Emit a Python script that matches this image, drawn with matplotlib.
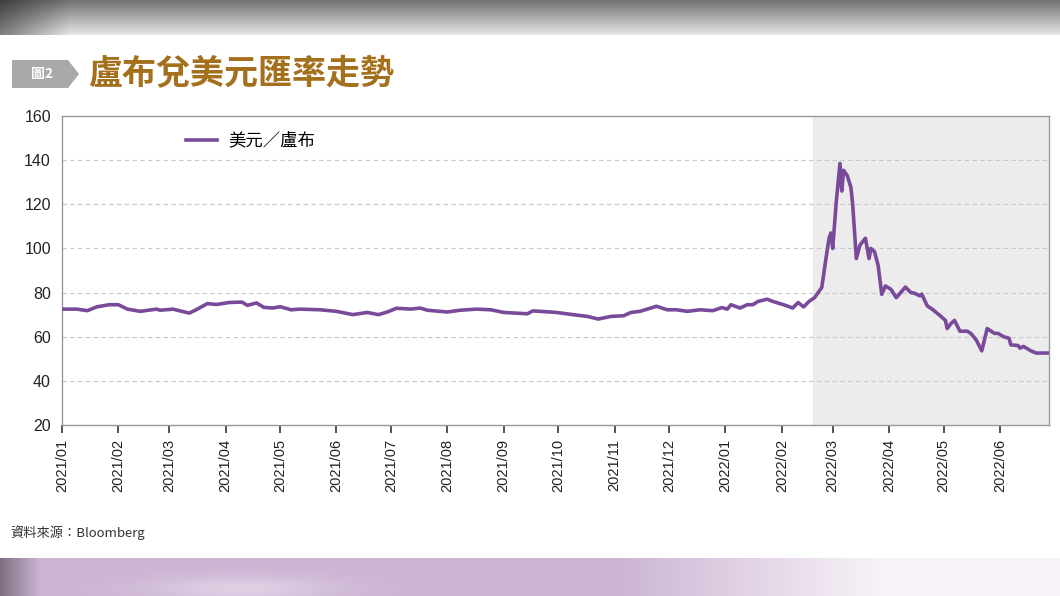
"""USD/RUB exchange rate chart (2021/01 - 2022/06) with shaded war period."""

import matplotlib
matplotlib.use("Agg")
import matplotlib.pyplot as plt
import matplotlib.dates as mdates
from matplotlib.patches import Polygon
import numpy as np
import pandas as pd

plt.rcParams["font.family"] = ["Noto Sans CJK TC", "DejaVu Sans"]

# ---- data ----
dates = [
    "2021-01-01", "2021-01-09", "2021-01-15", "2021-01-20", "2021-01-27", "2021-02-01",
    "2021-02-06", "2021-02-13", "2021-02-22", "2021-02-24", "2021-03-03", "2021-03-12",
    "2021-03-16", "2021-03-22", "2021-03-27", "2021-04-03", "2021-04-10", "2021-04-13",
    "2021-04-18", "2021-04-22", "2021-04-27", "2021-05-01", "2021-05-07", "2021-05-12",
    "2021-05-23", "2021-06-01", "2021-06-10", "2021-06-18", "2021-06-24", "2021-06-29",
    "2021-07-04", "2021-07-12", "2021-07-17", "2021-07-21", "2021-08-01", "2021-08-08",
    "2021-08-17", "2021-08-25", "2021-09-01", "2021-09-14", "2021-09-17", "2021-09-21",
    "2021-09-30", "2021-10-09", "2021-10-17", "2021-10-23", "2021-10-30", "2021-11-06",
    "2021-11-10", "2021-11-15", "2021-11-21", "2021-11-24", "2021-11-30", "2021-12-05",
    "2021-12-11", "2021-12-18", "2021-12-25", "2021-12-30", "2022-01-02", "2022-01-04",
    "2022-01-09", "2022-01-13", "2022-01-16", "2022-01-19", "2022-01-24", "2022-01-27",
    "2022-02-02", "2022-02-07", "2022-02-10", "2022-02-13", "2022-02-16", "2022-02-19",
    "2022-02-21", "2022-02-23", "2022-02-25", "2022-02-27", "2022-02-28", "2022-03-01",
    "2022-03-03", "2022-03-05", "2022-03-06", "2022-03-07", "2022-03-09", "2022-03-11",
    "2022-03-12", "2022-03-14", "2022-03-16", "2022-03-19", "2022-03-21", "2022-03-22",
    "2022-03-24", "2022-03-26", "2022-03-28", "2022-03-30", "2022-04-02", "2022-04-05",
    "2022-04-10", "2022-04-13", "2022-04-15", "2022-04-18", "2022-04-19", "2022-04-22",
    "2022-04-25", "2022-04-29", "2022-05-02", "2022-05-03", "2022-05-05", "2022-05-07",
    "2022-05-10", "2022-05-14", "2022-05-16", "2022-05-19", "2022-05-22", "2022-05-25",
    "2022-05-29", "2022-05-31", "2022-06-03", "2022-06-06", "2022-06-07", "2022-06-11",
    "2022-06-12", "2022-06-14", "2022-06-18", "2022-06-21", "2022-06-27",
]
usd_rub = [
    72.5, 72.5, 71.8, 73.5, 74.5, 74.5,
    72.5, 71.5, 72.5, 72.0, 72.5, 70.7,
    72.3, 75.0, 74.6, 75.5, 75.7, 74.2,
    75.3, 73.3, 73.0, 73.6, 72.2, 72.5,
    72.2, 71.5, 70.0, 71.0, 70.0, 71.2,
    72.9, 72.5, 73.0, 72.0, 71.2, 72.0,
    72.5, 72.2, 71.0, 70.4, 71.7, 71.5,
    71.0, 70.0, 69.2, 68.0, 69.2, 69.5,
    71.0, 71.5, 73.0, 73.8, 72.2, 72.2,
    71.5, 72.2, 71.8, 73.2, 72.5, 74.5,
    73.0, 74.5, 74.5, 76.0, 77.0, 76.0,
    74.5, 73.0, 75.5, 73.5, 76.0, 77.7,
    80.0, 82.3, 93.8, 104.6, 107.0, 100.0,
    121.5, 138.5, 126.0, 135.4, 133.0, 127.7,
    120.0, 95.4, 101.5, 104.6, 95.4, 100.0,
    98.5, 92.3, 79.2, 83.0, 81.5, 77.7,
    82.5, 80.0, 79.7, 78.5, 79.3, 74.0,
    72.3, 69.6, 67.4, 63.7, 65.9, 67.4,
    62.5, 62.5, 61.5, 58.5, 53.6, 63.7,
    61.5, 61.5, 60.0, 59.3, 56.3, 56.0,
    54.8, 55.6, 53.6, 52.6, 52.6,
]
y_ticks = [20, 40, 60, 80, 100, 120, 140, 160]
x_start, x_end = "2021-01-01", "2022-06-28"
shade_start = "2022-02-18"

title = "盧布兌美元匯率走勢"
tag = "圖2"
series_label = "美元／盧布"
source = "資料來源：Bloomberg"

LINE = "#7a4a9a"
W, H = 1060, 596

fig = plt.figure(figsize=(W / 100, H / 100), dpi=100)
fig.patch.set_facecolor("white")

# ---- decoration layer in pixel coords ----
bg = fig.add_axes([0, 0, 1, 1], zorder=0)
bg.set_xlim(0, W)
bg.set_ylim(H, 0)
bg.axis("off")

# top grey photo band
yy, xx = np.mgrid[0:35, 0:W]
v = 0.45 + 0.45 * (yy / 34.0)
v = v * (0.55 + 0.45 * np.clip(xx / 70.0, 0, 1))
top = np.dstack([v, v, v])
bg.imshow(top, extent=(0, W, 35, 0), aspect="auto", interpolation="bilinear")

# bottom lavender band
yy, xx = np.mgrid[0:38, 0:W]
base = np.array([0.80, 0.71, 0.83])
fade = np.clip((xx - 620) / 260.0, 0, 1)[..., None]
bot = base * (1 - fade) + np.array([0.97, 0.95, 0.97]) * fade
glow = np.exp(-((xx - 240) / 90.0) ** 2 - ((yy - 30) / 12.0) ** 2)[..., None]
bot = bot * (1 - 0.5 * glow) + 0.5 * glow * np.array([0.95, 0.92, 0.96])
dark = np.clip(1 - xx / 40.0, 0, 1)[..., None]
bot = bot * (1 - 0.6 * dark) + 0.6 * dark * np.array([0.30, 0.25, 0.30])
bg.imshow(np.clip(bot, 0, 1), extent=(0, W, H, 558), aspect="auto", interpolation="bilinear")

# "圖2" tag
bg.add_patch(Polygon([(12, 60), (68, 60), (79, 74), (68, 88), (12, 88)],
                     closed=True, facecolor="#a9a9a9", edgecolor="none"))
bg.text(42, 74, tag, color="white", fontsize=10, fontweight="bold",
        ha="center", va="center")
bg.text(88, 74, title, color="#a5701c", fontsize=24.5, fontweight="bold",
        ha="left", va="center")
bg.text(10, 533, source, color="#333333", fontsize=9.5, ha="left", va="center")

# ---- chart ----
ax = fig.add_axes([62 / W, 1 - 425 / H, (1049 - 62) / W, (425 - 116) / H], zorder=1)
ax.set_facecolor("white")

x = pd.to_datetime(dates)
ax.axvspan(pd.Timestamp(shade_start), pd.Timestamp(x_end), color="#ececec", zorder=0)
ax.plot(x, usd_rub, color=LINE, linewidth=2.6, label=series_label, zorder=3,
        solid_joinstyle="round")

ax.set_xlim(pd.Timestamp(x_start), pd.Timestamp(x_end))
ax.set_ylim(20, 160)
ax.set_yticks(y_ticks)
ax.grid(True, axis="y", color="#c8c8c8", linestyle=(0, (4, 3)), linewidth=0.8, zorder=1)

ax.xaxis.set_major_locator(mdates.MonthLocator())
ax.xaxis.set_major_formatter(mdates.DateFormatter("%Y/%m"))
ax.tick_params(axis="x", direction="out", length=6, width=1.2, color="#333333",
               labelsize=10.5, labelcolor="#222222", labelrotation=90, pad=4)
ax.tick_params(axis="y", length=0, labelsize=11.5, labelcolor="#222222", pad=8)
for lbl in ax.get_xticklabels() + ax.get_yticklabels():
    lbl.set_family(["Liberation Sans", "DejaVu Sans"])

for side in ["left", "bottom", "top", "right"]:
    ax.spines[side].set_color("#999999")
    ax.spines[side].set_linewidth(1.0)

ax.legend(loc="upper left", bbox_to_anchor=(0.11, 1.0), frameon=False,
          fontsize=12.5, handlelength=1.8, handletextpad=0.6)

fig.savefig("out.png", dpi=100)
